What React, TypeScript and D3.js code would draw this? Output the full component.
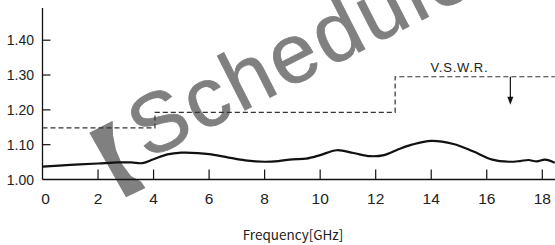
import React from "react";
import * as d3 from "d3";

const W = 555;
const H = 245;

const xTicks = [0, 2, 4, 6, 8, 10, 12, 14, 16, 18];
const yTicks = [1.0, 1.1, 1.2, 1.3, 1.4];
const yTickLabels = ["1.00", "1.10", "1.20", "1.30", "1.40"];

// Measured VSWR curve: frequency (GHz) and VSWR
const freq = [0, 1, 2, 2.7, 3.2, 3.6, 4.0, 4.5, 5.0, 5.6, 6.0, 6.7, 7.3, 8.0, 8.5, 9.0, 9.5, 10.0, 10.6, 11.2, 11.8, 12.3, 12.8, 13.3, 14.0, 14.8, 15.5, 16.2, 16.8, 17.2, 17.5, 17.8, 18.1, 18.45];
const vswr = [1.037, 1.042, 1.046, 1.049, 1.049, 1.047, 1.058, 1.072, 1.077, 1.076, 1.073, 1.063, 1.055, 1.051, 1.053, 1.058, 1.06, 1.07, 1.084, 1.076, 1.067, 1.07, 1.086, 1.1, 1.111, 1.102, 1.081, 1.057, 1.051, 1.053, 1.056, 1.052, 1.057, 1.048];

// Spec limit (dashed step line)
const limitFreq = [0, 4.05, 4.05, 12.7, 12.7, 18.45];
const limitVswr = [1.148, 1.148, 1.193, 1.193, 1.295, 1.295];

const xLabel = "Frequency[GHz]";
const specLabel = "V.S.W.R.";
const arrowFreq = 16.85;
const watermark = "Schedule";

export default function App() {
  const x = d3.scaleLinear().domain([0, 18]).range([42.5, 542.3]);
  const y = d3.scaleLinear().domain([1.0, 1.4]).range([179.5, 40.2]);

  const curve = d3
    .line<number>()
    .x((_, i) => x(freq[i]))
    .y((d) => y(d))
    .curve(d3.curveCatmullRom.alpha(0.5));

  const limit = d3
    .line<number>()
    .x((_, i) => x(limitFreq[i]))
    .y((d) => y(d));

  const x0 = x(0);
  const yBase = y(1.0);
  const yTop = 8;
  const arrowX = x(arrowFreq);
  const arrowY0 = y(1.295);
  const arrowY1 = arrowY0 + 28;

  const font = "'Liberation Sans', Arial, sans-serif";

  return (
    <svg
      width={W}
      height={H}
      style={{ position: "absolute", left: 0, top: 0, background: "#fff" }}
    >
      {/* watermark */}
      <g fill="#808080">
        <path d="M89.3,132.7 L112.7,120.7 L113,135 L116,150 L122,164 L131,176 L141,181.5 L145.5,188 L126,197.3 Z" />
        <text
          transform="translate(147,160) rotate(-27)"
          fontFamily={font}
          fontSize={84}
          letterSpacing={3}
          stroke="#808080"
          strokeWidth={0.8}
        >
          {watermark}
        </text>
      </g>

      {/* axes */}
      <line x1={x0} x2={x0} y1={yTop} y2={yBase} stroke="#111" strokeWidth={1.3} />
      <line x1={x0} x2={W} y1={yBase} y2={yBase} stroke="#111" strokeWidth={1.3} />

      {yTicks.map((t, i) => (
        <g key={"y" + i}>
          {i > 0 && (
            <line x1={x0} x2={x0 + 8} y1={y(t)} y2={y(t)} stroke="#111" strokeWidth={1.2} />
          )}
          <text
            x={34}
            y={y(t)}
            dy="0.36em"
            textAnchor="end"
            fontFamily={font}
            fontSize={14}
            fill="#222"
          >
            {yTickLabels[i]}
          </text>
        </g>
      ))}

      {xTicks.map((t, i) => (
        <g key={"x" + i}>
          {i > 0 && (
            <line x1={x(t)} x2={x(t)} y1={yBase} y2={yBase - 10} stroke="#111" strokeWidth={1.2} />
          )}
          <text
            x={x(t) + (i === 0 ? 3 : 0)}
            y={203.5}
            textAnchor="middle"
            fontFamily={font}
            fontSize={15.5}
            fill="#222"
          >
            {String(t)}
          </text>
        </g>
      ))}

      {/* spec limit */}
      <path
        d={limit(limitVswr) || ""}
        fill="none"
        stroke="#333"
        strokeWidth={1.2}
        strokeDasharray="5,3"
      />
      <text
        x={459.5}
        y={71.7}
        textAnchor="middle"
        fontFamily={font}
        fontSize={13}
        letterSpacing={0.8}
        fill="#222"
      >
        {specLabel}
      </text>
      <line x1={arrowX} x2={arrowX} y1={arrowY0} y2={arrowY1 - 6} stroke="#111" strokeWidth={1.2} />
      <path
        d={`M${arrowX - 3},${arrowY1 - 8} L${arrowX + 3},${arrowY1 - 8} L${arrowX},${arrowY1} Z`}
        fill="#111"
      />

      {/* measured curve */}
      <path d={curve(vswr) || ""} fill="none" stroke="#111" strokeWidth={2.2} />

      <text
        x={293}
        y={239.5}
        textAnchor="middle"
        fontFamily="'Noto Sans CJK JP', sans-serif"
        fontSize={13.5}
        fill="#222"
      >
        {xLabel}
      </text>
    </svg>
  );
}
